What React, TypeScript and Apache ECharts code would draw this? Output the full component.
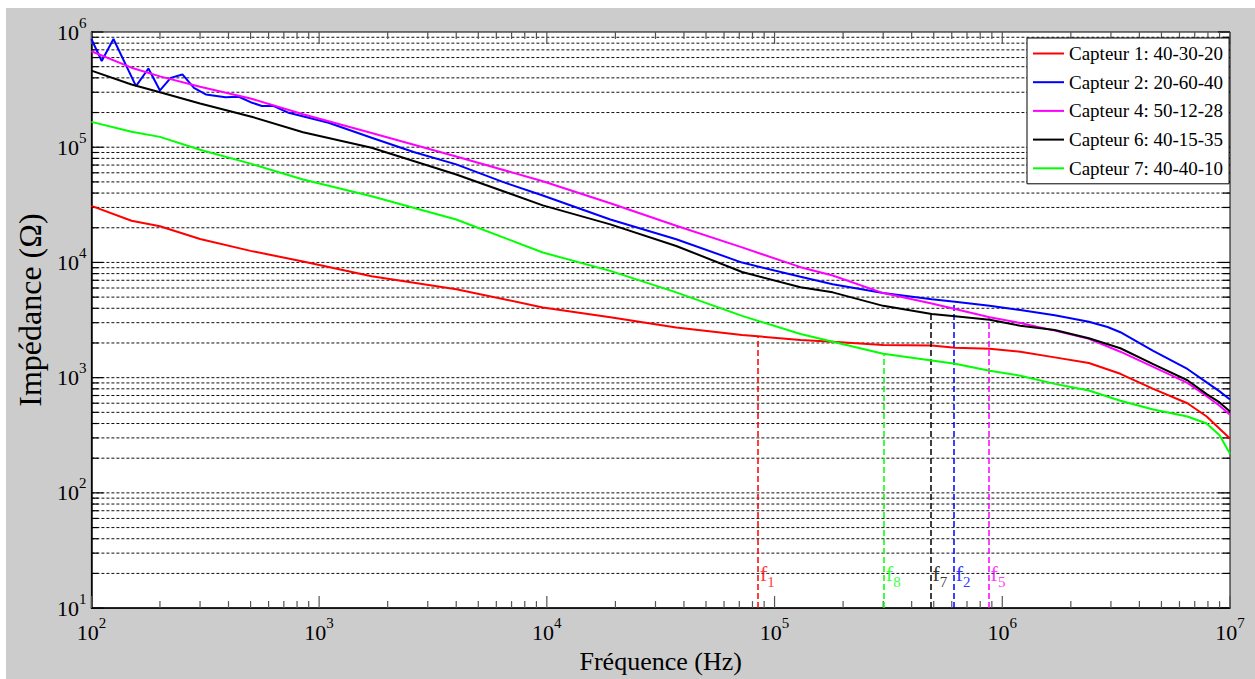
import React, { useEffect, useRef } from "react";
import * as echarts from "echarts";

// ---------- data ----------
const freq = [100, 150, 200, 300, 500, 850, 1700, 4000, 9600, 19000, 37000, 72000, 130000, 180000, 300000, 490000, 620000, 880000, 1200000, 1700000, 2400000, 3300000, 4600000, 6500000, 7900000, 9000000, 10000000];

const capteur1 = [31000, 23000, 20600, 16000, 12600, 10200, 7600, 5860, 4070, 3340, 2730, 2350, 2120, 2050, 1920, 1900, 1820, 1780, 1680, 1500, 1340, 1080, 800, 600, 460, 360, 296];
const capteur4 = [680000, 490000, 412000, 335000, 265000, 193000, 133000, 83000, 50700, 32600, 20800, 13500, 9100, 7700, 5420, 4400, 3940, 3340, 2980, 2560, 2170, 1680, 1240, 900, 690, 570, 477];
const capteur6 = [462000, 350000, 300000, 240000, 185000, 135000, 99000, 58000, 31300, 21400, 13900, 8260, 6100, 5500, 4200, 3570, 3410, 3180, 2820, 2590, 2200, 1800, 1310, 950, 720, 610, 509];
const capteur7 = [166000, 136000, 123000, 95000, 72000, 52500, 37600, 23600, 12200, 8450, 5500, 3440, 2390, 2050, 1610, 1410, 1320, 1150, 1040, 883, 773, 630, 530, 460, 400, 316, 219];

const blueFreq = [100, 111, 125, 157, 178, 200, 223, 251, 282, 318, 388, 444, 508, 561, 632, 735, 855, 1100, 1700, 2600, 4000, 6400, 9600, 19000, 37000, 72000, 130000, 180000, 300000, 490000, 620000, 880000, 1200000, 1700000, 2400000, 2900000, 3300000, 4600000, 6500000, 7900000, 9000000, 10000000];
const capteur2 = [870000, 560000, 870000, 339000, 482000, 311000, 400000, 428000, 328000, 287000, 272000, 274000, 243000, 228000, 228000, 199000, 185000, 163000, 121000, 91000, 71000, 50000, 38100, 23600, 15900, 9970, 7500, 6480, 5420, 4800, 4550, 4200, 3860, 3480, 3060, 2750, 2480, 1710, 1190, 910, 760, 647];

const seriesNames = ["Capteur 1: 40-30-20", "Capteur 2: 20-60-40", "Capteur 4: 50-12-28", "Capteur 6: 40-15-35", "Capteur 7: 40-40-10"];
const seriesColors = ["#ff0000", "#0000ff", "#ff00ff", "#000000", "#00ff00"];

// resonance markers: red f1, blue f2, magenta f5, black f7, green f8
const markerFreq = [84500, 612000, 871000, 484000, 302000];
const markerTop = [2270, 4450, 3300, 3570, 1610];
const markerSub = ["1", "2", "5", "7", "8"];
const markerLabelY = 20;

const X_MIN = 100, X_MAX = 1e7, Y_MIN = 10, Y_MAX = 1e6;
const decadesX = [100, 1000, 10000, 100000, 1000000];
const decadesY = [10, 100, 1000, 10000, 100000];
const mults = [1, 2, 3, 4, 5, 6, 7, 8, 9];

const FONT = "'Liberation Serif', 'Times New Roman', Times, serif";

const xTicks: number[] = [];
decadesX.forEach((d) => mults.forEach((m) => xTicks.push(d * m)));
xTicks.push(X_MAX);
const yTicks: number[] = [];
decadesY.forEach((d) => mults.forEach((m) => yTicks.push(d * m)));
yTicks.push(Y_MAX);

const isMajor = (v: number) => {
  const l = Math.log10(v);
  return Math.abs(l - Math.round(l)) < 1e-6;
};

const pairs = (xs: number[], ys: number[]) => xs.map((x, i) => [x, ys[i]]);

export default function App() {
  const ref = useRef<HTMLDivElement>(null);
  useEffect(() => {
    const chart = echarts.init(ref.current!, null, { renderer: "svg" });

    const supLabel = {
      fontFamily: FONT,
      color: "#000",
      formatter: (v: number) => `{b|10}{sup|${Math.round(Math.log10(v))}}`,
      rich: {
        b: { fontFamily: FONT, fontSize: 22, lineHeight: 34, color: "#000" },
        sup: { fontFamily: FONT, fontSize: 15, lineHeight: 15, verticalAlign: "top", color: "#000" },
      },
    };

    const dataSets = [
      pairs(freq, capteur1),
      pairs(blueFreq, capteur2),
      pairs(freq, capteur4),
      pairs(freq, capteur6),
      pairs(freq, capteur7),
    ];

    const lineSeries = seriesNames.map((name, i) => ({
      name,
      type: "line",
      data: dataSets[i],
      symbol: "none",
      showSymbol: false,
      z: 3 + i,
      lineStyle: { color: seriesColors[i], width: 2 },
      itemStyle: { color: seriesColors[i] },
      markLine: {
        silent: true,
        symbol: ["none", "none"],
        label: { show: false },
        lineStyle: { color: seriesColors[i], type: [6, 3], width: 1.5 },
        data: [[{ coord: [markerFreq[i], Y_MIN] }, { coord: [markerFreq[i], markerTop[i]] }]],
      },
    }));

    const markerData = markerFreq.map((f, i) => ({
      value: [f, markerLabelY],
      label: {
        color: seriesColors[i],
        formatter: `{f|f}{sub|${markerSub[i]}}`,
        rich: {
          f: { fontFamily: FONT, fontSize: 22, lineHeight: 32, color: seriesColors[i] },
          sub: { fontFamily: FONT, fontSize: 15, lineHeight: 15, verticalAlign: "bottom", color: seriesColors[i] },
        },
      },
    }));

    const option: any = {
      animation: false,
      backgroundColor: "#cccccc",
      textStyle: { fontFamily: FONT },
      grid: {
        left: 81,
        top: 24,
        right: 25,
        bottom: 69,
        show: true,
        backgroundColor: "#ffffff",
        borderColor: "#000",
        borderWidth: 1,
      },
      legend: {
        data: seriesNames,
        orient: "vertical",
        left: 1021,
        top: 30,
        icon: "rect",
        backgroundColor: "#ffffff",
        borderColor: "#000",
        borderWidth: 1,
        borderRadius: 0,
        padding: [6, 6, 6, 6],
        itemWidth: 31,
        itemHeight: 2,
        itemGap: 9.7,
        textStyle: { fontFamily: FONT, fontSize: 19, color: "#000", lineHeight: 18 },
      },
      xAxis: {
        type: "log",
        logBase: 10,
        min: X_MIN,
        max: X_MAX,
        axisLine: { show: true, onZero: false, lineStyle: { color: "#000", width: 1.5 } },
        axisTick: { show: false },
        splitLine: { show: false },
        axisLabel: { ...supLabel, margin: 7 },
        name: "Fréquence (Hz)",
        nameLocation: "middle",
        nameGap: 35,
        nameTextStyle: { fontFamily: FONT, fontSize: 26, color: "#000" },
      },
      yAxis: {
        type: "log",
        logBase: 10,
        min: Y_MIN,
        max: Y_MAX,
        axisLine: { show: true, lineStyle: { color: "#000", width: 1.5 } },
        axisTick: { show: false },
        splitLine: { show: false },
        axisLabel: { ...supLabel, margin: 5 },
        name: "Impédance (Ω)",
        nameLocation: "middle",
        nameGap: 28,
        nameTextStyle: { fontFamily: FONT, fontSize: 32, color: "#000", padding: [0, 0, 0, 20] },
      },
      series: [
        {
          type: "custom",
          name: "ygrid",
          silent: true,
          z: 1,
          data: yTicks.map((v) => [X_MIN, v]),
          renderItem: (params: any, api: any) => {
            const v = api.value(1);
            const a = api.coord([X_MIN, v]);
            const b = api.coord([X_MAX, v]);
            const t = isMajor(v) ? 12 : 7;
            const children: any[] = [];
            if (v > Y_MIN * 1.0001 && v < Y_MAX * 0.9999) {
              children.push({
                type: "line",
                shape: { x1: a[0], y1: a[1], x2: b[0], y2: b[1] },
                style: { stroke: "#111", lineWidth: 1, lineDash: [3, 2] },
              });
            }
            children.push({ type: "line", shape: { x1: a[0], y1: a[1], x2: a[0] + t, y2: a[1] }, style: { stroke: "#000", lineWidth: 1.2 } });
            children.push({ type: "line", shape: { x1: b[0], y1: b[1], x2: b[0] - t, y2: b[1] }, style: { stroke: "#000", lineWidth: 1.2 } });
            return { type: "group", children };
          },
        },
        {
          type: "custom",
          name: "xticks",
          silent: true,
          z: 1,
          data: xTicks.map((v) => [v, Y_MIN]),
          renderItem: (params: any, api: any) => {
            const v = api.value(0);
            const a = api.coord([v, Y_MIN]);
            const b = api.coord([v, Y_MAX]);
            const t = isMajor(v) ? 12 : 7;
            return {
              type: "group",
              children: [
                { type: "line", shape: { x1: a[0], y1: a[1], x2: a[0], y2: a[1] - t }, style: { stroke: "#555", lineWidth: 1.2 } },
                { type: "line", shape: { x1: b[0], y1: b[1], x2: b[0], y2: b[1] + t }, style: { stroke: "#555", lineWidth: 1.2 } },
              ],
            };
          },
        },
        ...lineSeries,
        {
          type: "scatter",
          name: "markers",
          silent: true,
          symbolSize: 0,
          z: 10,
          data: markerData,
          label: { show: true, position: "right", distance: 2 },
        },
      ],
    };

    chart.setOption(option);
    return () => chart.dispose();
  }, []);

  return (
    <div
      ref={ref}
      style={{ position: "absolute", left: 6, top: 8, width: 1249, height: 671, background: "#cccccc" }}
    />
  );
}
